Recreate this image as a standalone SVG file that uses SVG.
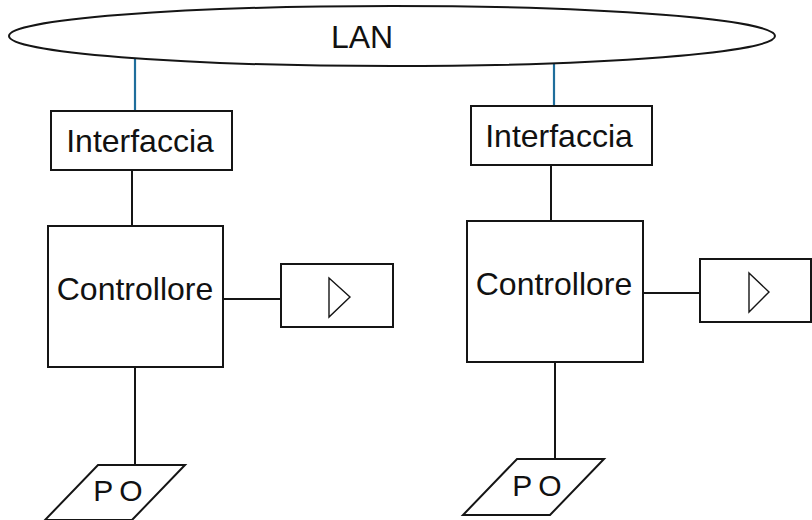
<svg xmlns="http://www.w3.org/2000/svg" width="812" height="520" viewBox="0 0 812 520">
<style>
.shape{fill:#fff;stroke:#151515;stroke-width:2}
.tri{fill:none;stroke:#151515;stroke-width:1.4}
.conn{stroke:#151515;stroke-width:2;fill:none}
.lan{stroke:#1f6e9c;stroke-width:2.2;fill:none}
text{font-family:"Liberation Sans",Arial,sans-serif;font-size:32px;fill:#111;text-anchor:middle}
.po{font-size:30px;letter-spacing:6px}
</style>
<rect width="812" height="520" fill="#fff"/>
<g id="connectors">
<line class="lan" x1="135" y1="58" x2="135" y2="111"/>
<line class="lan" x1="554" y1="63" x2="554" y2="106"/>
<line class="conn" x1="132" y1="170" x2="132" y2="226"/>
<line class="conn" x1="223" y1="299" x2="281" y2="299"/>
<line class="conn" x1="135" y1="367" x2="135" y2="465"/>
<line class="conn" x1="551" y1="165" x2="551" y2="221"/>
<line class="conn" x1="643" y1="293" x2="700" y2="293"/>
<line class="conn" x1="555" y1="362" x2="555" y2="459"/>
</g>
<g id="lan">
<ellipse class="shape" cx="392" cy="36" rx="383" ry="30" fill="none"/>
<text x="362" y="48">LAN</text>
</g>
<g id="interfaccia-left">
<rect class="shape" x="51" y="111" width="181" height="59"/>
<text x="140" y="152">Interfaccia</text>
</g>
<g id="controllore-left">
<rect class="shape" x="48" y="226" width="175" height="141"/>
<text x="135" y="300">Controllore</text>
</g>
<g id="output-left">
<rect class="shape" x="281" y="264" width="112" height="63"/>
<polygon class="tri" points="329,278 350,297 329,317"/>
</g>
<g id="po-left">
<polygon class="shape" points="98,465 185,465 132,520 45,520"/>
<text class="po" x="121" y="501">PO</text>
</g>
<g id="interfaccia-right">
<rect class="shape" x="471" y="106" width="181" height="59"/>
<text x="559" y="147">Interfaccia</text>
</g>
<g id="controllore-right">
<rect class="shape" x="467" y="221" width="176" height="141"/>
<text x="554" y="295">Controllore</text>
</g>
<g id="output-right">
<rect class="shape" x="700" y="259" width="111" height="63"/>
<polygon class="tri" points="749,273 769,292 749,312"/>
</g>
<g id="po-right">
<polygon class="shape" points="517,459 604,459 550,515 463,515"/>
<text class="po" x="540" y="496">PO</text>
</g>
</svg>
